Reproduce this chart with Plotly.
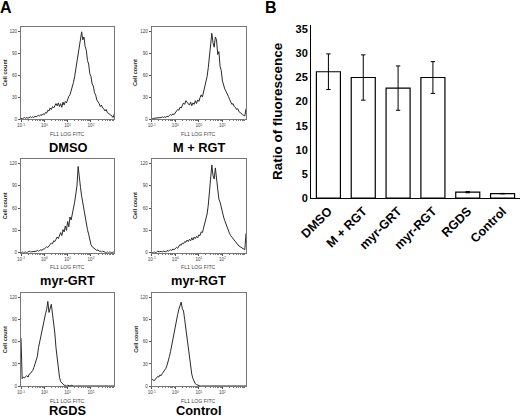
import math
import plotly.graph_objects as go

W, H = 520, 418
FONT = "Liberation Sans, Arial, sans-serif"

# ---------------- data ----------------
# Panel A: flow-cytometry histograms, counts per channel bin.
# Bins start at 10^-1 and step 0.05 decade up to 10^3.
BIN_START_EXP = -1.0
BIN_STEP_EXP = 0.05

hist_titles = ["DMSO", "M + RGT", "myr-GRT", "myr-RGT", "RGDS", "Control"]

counts_dmso = [1, 0, 1, 2, 1, 2, 1, 2, 3, 2, 3,
               2, 4, 3, 4, 5, 4, 6, 5, 7, 6,
               9, 8, 12, 11, 15, 13, 17, 15, 19, 21,
               18, 22, 17, 21, 16, 23, 19, 24, 22, 27,
               31, 33, 38, 43, 50, 58, 68, 79, 90, 101,
               110, 119, 108, 112, 99, 94, 80, 75, 62, 58,
               48, 45, 36, 33, 26, 24, 21, 17, 19, 15,
               14, 11, 13, 9, 8, 6, 5, 4, 2, 7]

counts_m_rgt = [1, 0, 1, 1, 2, 1, 2, 1, 2, 3, 2,
                3, 2, 4, 3, 5, 6, 5, 7, 6, 9,
                10, 13, 12, 16, 15, 19, 22, 20, 25, 23,
                21, 19, 23, 18, 22, 20, 25, 21, 26, 24,
                29, 33, 30, 37, 44, 50, 58, 70, 84, 100,
                117, 104, 98, 112, 108, 88, 92, 72, 66, 52,
                46, 41, 38, 33, 31, 27, 24, 20, 21, 17,
                16, 13, 14, 10, 9, 7, 6, 5, 4, 14]

counts_myr_grt = [0, 1, 0, 1, 1, 0, 1, 2, 1, 1, 2,
                  1, 2, 2, 3, 2, 3, 4, 3, 5, 5,
                  6, 8, 7, 10, 11, 13, 12, 16, 15, 18,
                  21, 19, 24, 27, 23, 31, 28, 36, 30, 42,
                  35, 48, 44, 55, 60, 68, 79, 90, 116, 98,
                  88, 76, 66, 56, 47, 38, 31, 25, 17, 11,
                  8, 7, 5, 4, 3, 4, 2, 2, 1, 2,
                  1, 1, 0, 1, 0, 1, 0, 0, 1, 0]

counts_myr_rgt = [1, 0, 1, 1, 0, 2, 1, 1, 2, 1, 2,
                  2, 1, 3, 2, 3, 4, 3, 5, 4, 6,
                  7, 6, 9, 11, 10, 13, 12, 15, 14, 17,
                  15, 18, 16, 20, 17, 21, 19, 22, 20, 24,
                  23, 28, 27, 33, 38, 44, 52, 64, 82, 105,
                  118, 104, 99, 114, 98, 88, 72, 68, 60, 54,
                  48, 43, 38, 33, 30, 26, 23, 21, 18, 16,
                  14, 12, 11, 9, 8, 7, 6, 5, 4, 26]

counts_rgds = [65, 10, 12, 11, 13, 14, 12, 16, 17, 19, 21,
               25, 30, 34, 40, 52, 60, 70, 76, 84, 91,
               98, 104, 115, 100, 108, 111, 98, 87, 72, 52,
               36, 21, 12, 6, 4, 2, 1, 1, 0, 1,
               0, 0, 1, 0, 0, 0, 0, 1, 0, 0,
               0, 0, 0, 0, 0, 0, 0, 0, 0, 0,
               0, 0, 0, 0, 0, 0, 0, 0, 0, 0,
               0, 0, 0, 0, 0, 0, 0, 0, 0, 0]

counts_control = [8, 9, 7, 10, 11, 13, 12, 15, 14, 17, 19,
                  21, 24, 28, 33, 40, 47, 56, 64, 72, 80,
                  89, 97, 104, 110, 114, 105, 102, 90, 78, 66,
                  52, 38, 25, 16, 10, 6, 3, 2, 1, 0,
                  0, 0, 0, 0, 0, 0, 0, 0, 0, 0,
                  0, 0, 0, 0, 0, 0, 0, 0, 0, 0,
                  0, 0, 0, 0, 0, 0, 0, 0, 0, 0,
                  0, 0, 0, 0, 0, 0, 0, 0, 0, 0]

hist_counts = [counts_dmso, counts_m_rgt, counts_myr_grt,
               counts_myr_rgt, counts_rgds, counts_control]

hist_ytick_values = [0, 30, 60, 90, 120]
hist_xtick_exps = [-1, 0, 1, 2]
hist_xtick_labels = ["10<sup>-1</sup>", "10<sup>0</sup>", "10<sup>1</sup>", "10<sup>2</sup>"]

# Panel B: ratio of fluorescence
bar_categories = ["DMSO", "M + RGT", "myr-GRT", "myr-RGT", "RGDS", "Control"]
bar_values = [26.2, 25.0, 22.8, 25.0, 1.2, 0.9]
bar_errors = [3.7, 4.7, 4.6, 3.3, 0.12, 0.05]
ratio_ticks = [0, 5, 10, 15, 20, 25, 30, 35]

# ---------------- layout helpers ----------------
def xdom(a, b):
    return [max(0, a / W), min(1, b / W)]

def ydom(top, bottom):
    return [max(0, 1 - bottom / H), min(1, 1 - top / H)]

cols = [(21, 114.3), (151.7, 246)]
rows = [(26.7, 119), (159, 252.7), (293.3, 386)]
title_y = [147, 280, 410]

minor_vals = []
for d in range(-1, 3):
    for k in range(2, 10):
        minor_vals.append(d + math.log10(k))

fig = go.Figure()
annotations = []
layout = {}

for idx, counts in enumerate(hist_counts):
    r, c = divmod(idx, 2)
    n = idx + 1
    xname = "x" if n == 1 else f"x{n}"
    yname = "y" if n == 1 else f"y{n}"
    xs = [BIN_START_EXP + BIN_STEP_EXP * i for i in range(len(counts))]
    fig.add_trace(go.Scatter(x=xs, y=counts, mode="lines",
                             line=dict(color="#2a2a2a", width=1.0),
                             xaxis=xname, yaxis=yname, showlegend=False,
                             hoverinfo="skip"))
    xk = "xaxis" if n == 1 else f"xaxis{n}"
    yk = "yaxis" if n == 1 else f"yaxis{n}"
    layout[xk] = dict(domain=xdom(*cols[c]), anchor=yname, range=[-1, 3],
                      automargin=False,
                      tickvals=hist_xtick_exps, ticktext=hist_xtick_labels,
                      ticks="outside", ticklen=2, tickwidth=0.6, tickcolor="#555",
                      minor=dict(tickvals=minor_vals, ticks="outside", ticklen=1,
                                 tickwidth=0.5, tickcolor="#777"),
                      showgrid=False, zeroline=False, showline=True, mirror=True,
                      linecolor="#777", linewidth=0.9,
                      tickfont=dict(size=4.6, color="#444", family=FONT))
    layout[yk] = dict(domain=ydom(*rows[r]), anchor=xname, range=[0, 126],
                      automargin=False,
                      tickvals=hist_ytick_values, ticks="outside", ticklen=2,
                      tickwidth=0.6, tickcolor="#555",
                      showgrid=False, zeroline=False, showline=True, mirror=True,
                      linecolor="#777", linewidth=0.9,
                      tickfont=dict(size=4.6, color="#444", family=FONT))
    x0, x1 = cols[c]
    top, bot = rows[r]
    annotations.append(dict(text="<b>" + hist_titles[idx] + "</b>", x=(x0 + x1) / 2 / W,
                            y=1 - title_y[r] / H, xref="paper", yref="paper",
                            showarrow=False, font=dict(size=12.8, color="black", family=FONT),
                            xanchor="center", yanchor="middle"))
    annotations.append(dict(text="FL1 LOG FITC", x=(x0 + x1) / 2 / W,
                            y=1 - (bot + 14.5) / H, xref="paper", yref="paper",
                            showarrow=False, font=dict(size=5.2, color="#444", family=FONT),
                            xanchor="center", yanchor="middle"))
    annotations.append(dict(text="<b>Cell count</b>", x=(x0 - 16.5) / W,
                            y=1 - (top + bot) / 2 / H, xref="paper", yref="paper",
                            textangle=-90, showarrow=False,
                            font=dict(size=5.6, color="#222", family=FONT),
                            xanchor="center", yanchor="middle"))

# Panel B
fig.add_trace(go.Bar(x=bar_categories, y=bar_values,
                     error_y=dict(type="data", array=bar_errors, visible=True,
                                  color="black", thickness=1, width=2.2),
                     marker=dict(color="white", line=dict(color="black", width=1.2)),
                     xaxis="x7", yaxis="y7", showlegend=False))
layout["xaxis7"] = dict(domain=xdom(311, 521), anchor="y7", showline=True,
                        automargin=False,
                        tickvals=bar_categories,
                        ticktext=["<b>" + t + "</b>" for t in bar_categories],
                        linecolor="black", linewidth=1, ticks="", tickangle=-45,
                        tickfont=dict(size=12.5, color="black", family=FONT),
                        showgrid=False, zeroline=False)
layout["yaxis7"] = dict(domain=ydom(24.5, 198), anchor="x7", range=[0, 36],
                        automargin=False,
                        tickvals=ratio_ticks,
                        ticktext=["<b>%d</b>" % t for t in ratio_ticks],
                        showline=True, linecolor="black",
                        linewidth=1, ticks="", showgrid=False, zeroline=False,
                        tickfont=dict(size=11, color="black", family=FONT),
                        title=dict(text="<b>Ratio of fluorescence</b>",
                                   font=dict(size=13.5, color="black", family=FONT),
                                   standoff=9))

annotations.append(dict(text="<b>A</b>", x=6 / W, y=1 - 7.5 / H, xref="paper", yref="paper",
                        showarrow=False, font=dict(size=16, color="black", family=FONT),
                        xanchor="center", yanchor="middle"))
annotations.append(dict(text="<b>B</b>", x=271 / W, y=1 - 8 / H, xref="paper", yref="paper",
                        showarrow=False, font=dict(size=16, color="black", family=FONT),
                        xanchor="center", yanchor="middle"))

fig.update_layout(width=W, height=H, margin=dict(l=0, r=0, t=0, b=0, autoexpand=False),
                  paper_bgcolor="white", plot_bgcolor="white",
                  bargap=0.31, annotations=annotations,
                  font=dict(family=FONT), **layout)

fig.write_html("out.html", config={"displayModeBar": False},
               post_script="document.body.style.margin='0';document.body.style.overflow='hidden';")
